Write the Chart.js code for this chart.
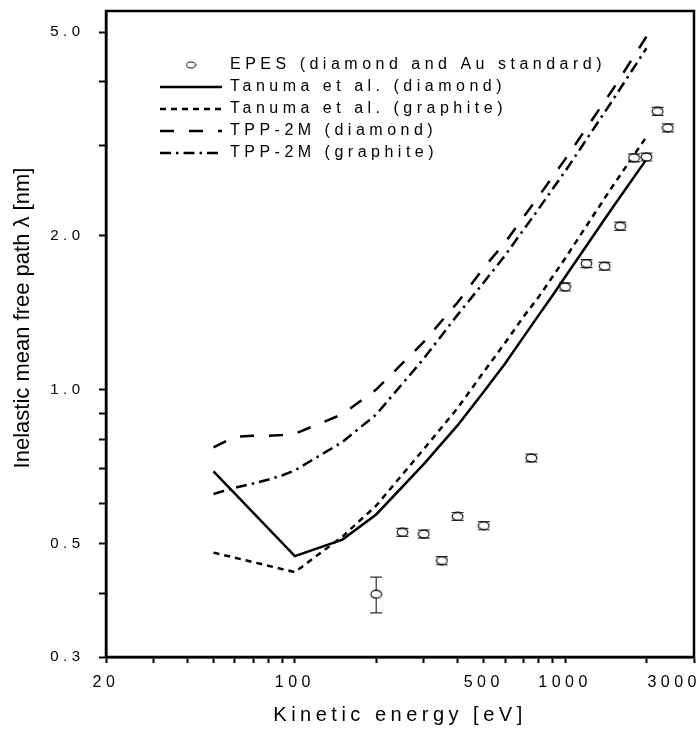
<!DOCTYPE html>
<html>
<head>
<meta charset="utf-8">
<script src="https://cdn.jsdelivr.net/npm/chart.js@4.4.1/dist/chart.umd.min.js"></script>
<style>
html,body{margin:0;padding:0;background:#fff;}
canvas{display:block;}
</style>
</head>
<body>
<canvas id="c" width="700" height="729"></canvas>
<script>
// ---------------- data ----------------
const xTickValues = [20,30,40,50,60,70,80,90,100,200,300,400,500,600,700,800,900,1000,2000,3000];
const xTickLabels = [20,100,500,1000,3000];
const yTickValues = [0.3,0.4,0.5,0.6,0.7,0.8,0.9,1,2,3,4,5];
const yTickLabels = [0.3,0.5,1,2,5];

const seriesLabels = [
  'EPES (diamond and Au standard)',
  'Tanuma et al. (diamond)',
  'Tanuma et al. (graphite)',
  'TPP-2M (diamond)',
  'TPP-2M (graphite)'
];

const epesEnergy = [200,250,300,350,400,500,750,1000,1200,1400,1600,1800,2000,2200,2400];
const epesImfp   = [0.398,0.526,0.522,0.463,0.565,0.542,0.735,1.588,1.764,1.743,2.087,2.84,2.85,3.50,3.25];
const epesErr    = [0.032,0.0095,0.0095,0.0085,0.010,0.010,0.013,0.029,0.032,0.031,0.038,0.051,0.051,0.063,0.058];

const tanumaEnergy   = [50,100,150,200,300,400,500,600,700,800,900,1000,1500,2000];
const tanumaDiamond  = [0.692,0.4725,0.509,0.570,0.715,0.851,0.99,1.125,1.265,1.40,1.53,1.66,2.27,2.82];
const tanumaGraphite = [0.480,0.4396,0.516,0.593,0.765,0.92,1.083,1.235,1.386,1.52,1.664,1.805,2.50,3.12];

const tppEnergy   = [50,60,70,80,90,100,150,200,300,400,500,600,700,800,900,1000,1500,2000];
const tppDiamond  = [0.771,0.809,0.812,0.812,0.815,0.820,0.895,1.0,1.24,1.48,1.73,1.94,2.17,2.39,2.61,2.82,3.86,4.9];
const tppGraphite = [0.625,0.643,0.655,0.667,0.680,0.695,0.79,0.894,1.15,1.40,1.62,1.83,2.05,2.26,2.47,2.67,3.68,4.65];

// ---------------- styles ----------------
const FAMILY = "'Liberation Sans', Arial, Helvetica, sans-serif";
const LETTER_SPACING = '4.5px';
const LINE_WIDTH = 2.5;
const dashTanumaGraphite = [6,5];
const dashTppDiamond = [14,15];
const dashTppGraphite = [11,5,2.5,5];

function ellipseCanvas(w, h, lw) {
  const c = document.createElement('canvas');
  c.width = w; c.height = h;
  const g = c.getContext('2d');
  g.beginPath();
  g.ellipse(w/2, h/2, w/2 - lw, h/2 - lw, 0, 0, Math.PI*2);
  g.fillStyle = '#fff';
  g.fill();
  g.lineWidth = lw;
  g.strokeStyle = '#000';
  g.stroke();
  return c;
}
const pointImg = ellipseCanvas(13, 10, 1.1);
const legendImg = ellipseCanvas(11, 8, 1);

const toXY = (xs, ys) => xs.map((x, i) => ({x: x, y: ys[i]}));

const lineBase = {showLine: true, borderColor: '#000', backgroundColor: '#000', borderWidth: LINE_WIDTH, pointRadius: 0, tension: 0, fill: false};

const data = {
  datasets: [
    {label: seriesLabels[0], data: toXY(epesEnergy, epesImfp), showLine: false, pointStyle: pointImg, pointRadius: 5, borderColor: '#000', backgroundColor: '#fff'},
    Object.assign({label: seriesLabels[1], data: toXY(tanumaEnergy, tanumaDiamond), borderDash: []}, lineBase),
    Object.assign({label: seriesLabels[2], data: toXY(tanumaEnergy, tanumaGraphite), borderDash: dashTanumaGraphite}, lineBase),
    Object.assign({label: seriesLabels[3], data: toXY(tppEnergy, tppDiamond), borderDash: dashTppDiamond}, lineBase),
    Object.assign({label: seriesLabels[4], data: toXY(tppEnergy, tppGraphite), borderDash: dashTppGraphite}, lineBase)
  ]
};

const LEGEND_X = 160, LEGEND_Y = 57;

const customPlugin = {
  id: 'custom',
  afterLayout(chart) {
    const lg = chart.legend;
    if (!lg) return;
    const pad = lg.options.labels.padding;
    const dx = LEGEND_X - pad - lg.left;
    const dy = LEGEND_Y - pad - lg.top;
    lg.left += dx; lg.right += dx; lg.top += dy; lg.bottom += dy;
  },
  beforeDraw(chart) {
    const ctx = chart.ctx;
    ctx.save();
    ctx.fillStyle = '#fff';
    ctx.fillRect(0, 0, chart.width, chart.height);
    ctx.restore();
    ctx.letterSpacing = LETTER_SPACING;
    const xs = chart.scales.x;
    const items = xs.getLabelItems();
    items.forEach(it => {
      if (it.label === '3000') {
        it.options.textAlign = 'right';
        it.options.translation = [chart.width + 1, it.options.translation[1]];
      }
    });
    const ys = chart.scales.y;
    if (!ys._titlePatched) {
      const orig = ys.drawTitle;
      ys.drawTitle = function() {
        const c = this.ctx;
        c.save();
        c.letterSpacing = '0px';
        c.translate(0, -16);
        orig.call(this);
        c.restore();
      };
      ys._titlePatched = true;
    }
  },
  beforeDatasetsDraw(chart) {
    const ctx = chart.ctx;
    const x = chart.scales.x, y = chart.scales.y;
    ctx.save();
    ctx.strokeStyle = '#333';
    ctx.lineWidth = 1.2;
    epesEnergy.forEach((e, i) => {
      const px = x.getPixelForValue(e);
      const top = y.getPixelForValue(epesImfp[i] + epesErr[i]);
      const bot = y.getPixelForValue(epesImfp[i] - epesErr[i]);
      ctx.beginPath();
      ctx.moveTo(px, top); ctx.lineTo(px, bot);
      ctx.moveTo(px - 6, top); ctx.lineTo(px + 6, top);
      ctx.moveTo(px - 6, bot); ctx.lineTo(px + 6, bot);
      ctx.stroke();
    });
    ctx.restore();
  },
  afterDraw(chart) {
    const a = chart.chartArea;
    const ctx = chart.ctx;
    ctx.save();
    ctx.strokeStyle = '#000';
    ctx.lineWidth = 2.5;
    ctx.strokeRect(a.left, a.top, a.right - a.left, a.bottom - a.top);
    ctx.restore();
  }
};

Chart.defaults.font.family = FAMILY;
Chart.defaults.color = '#000';

new Chart(document.getElementById('c'), {
  type: 'scatter',
  data: data,
  plugins: [customPlugin],
  options: {
    responsive: false,
    devicePixelRatio: 1,
    animation: false,
    events: [],
    layout: {padding: {top: 11, right: 4, bottom: 0, left: 0}},
    plugins: {
      tooltip: {enabled: false},
      legend: {
        display: true,
        position: 'chartArea',
        align: 'start',
        labels: {
          usePointStyle: true,
          pointStyleWidth: 62,
          padding: 6,
          color: '#000',
          font: {family: FAMILY, size: 16},
          generateLabels: (chart) => chart.data.datasets.map((ds, i) => ({
            text: ds.label,
            fillStyle: '#000',
            strokeStyle: '#000',
            fontColor: '#000',
            lineWidth: i === 0 ? 1 : LINE_WIDTH,
            lineDash: ds.borderDash || [],
            lineCap: 'butt',
            pointStyle: i === 0 ? legendImg : 'line',
            rotation: 0,
            hidden: false,
            datasetIndex: i
          }))
        }
      }
    },
    scales: {
      x: {
        type: 'logarithmic',
        position: 'bottom',
        min: 20, max: 3000,
        afterBuildTicks: (s) => { s.ticks = xTickValues.map(v => ({value: v, major: xTickLabels.includes(v)})); },
        afterFit: (s) => { s.height = 72; s.paddingLeft = 0; s.paddingRight = 0; },
        ticks: {
          autoSkip: false, maxRotation: 0, minRotation: 0, padding: 10, color: '#000',
          font: {family: FAMILY, size: 16},
          callback: (v) => xTickLabels.includes(v) ? String(v) : ''
        },
        grid: {display: true, drawOnChartArea: false, drawTicks: true, tickLength: 6, tickColor: '#000', tickWidth: 2},
        border: {display: true, color: '#000', width: 2.5},
        title: {display: true, text: 'Kinetic energy [eV]', color: '#000', font: {family: FAMILY, size: 20}, padding: {top: 0, bottom: 2}}
      },
      y: {
        type: 'logarithmic',
        position: 'left',
        min: 0.3, max: 5.5,
        afterBuildTicks: (s) => { s.ticks = yTickValues.map(v => ({value: v, major: yTickLabels.includes(v)})); },
        afterFit: (s) => { s.width = 106; s.paddingTop = 0; s.paddingBottom = 0; },
        ticks: {
          autoSkip: false, padding: 14.5, color: '#000',
          font: {family: FAMILY, size: 15},
          callback: (v) => yTickLabels.includes(v) ? v.toFixed(1) : ''
        },
        grid: {display: true, drawOnChartArea: false, drawTicks: true, tickLength: 7, tickColor: '#000', tickWidth: 2},
        border: {display: true, color: '#000', width: 2.5},
        title: {display: true, text: 'Inelastic mean free path λ [nm]', color: '#000', font: {family: FAMILY, size: 22}, padding: {top: 10, bottom: 0}}
      }
    }
  }
});
</script>
</body>
</html>
